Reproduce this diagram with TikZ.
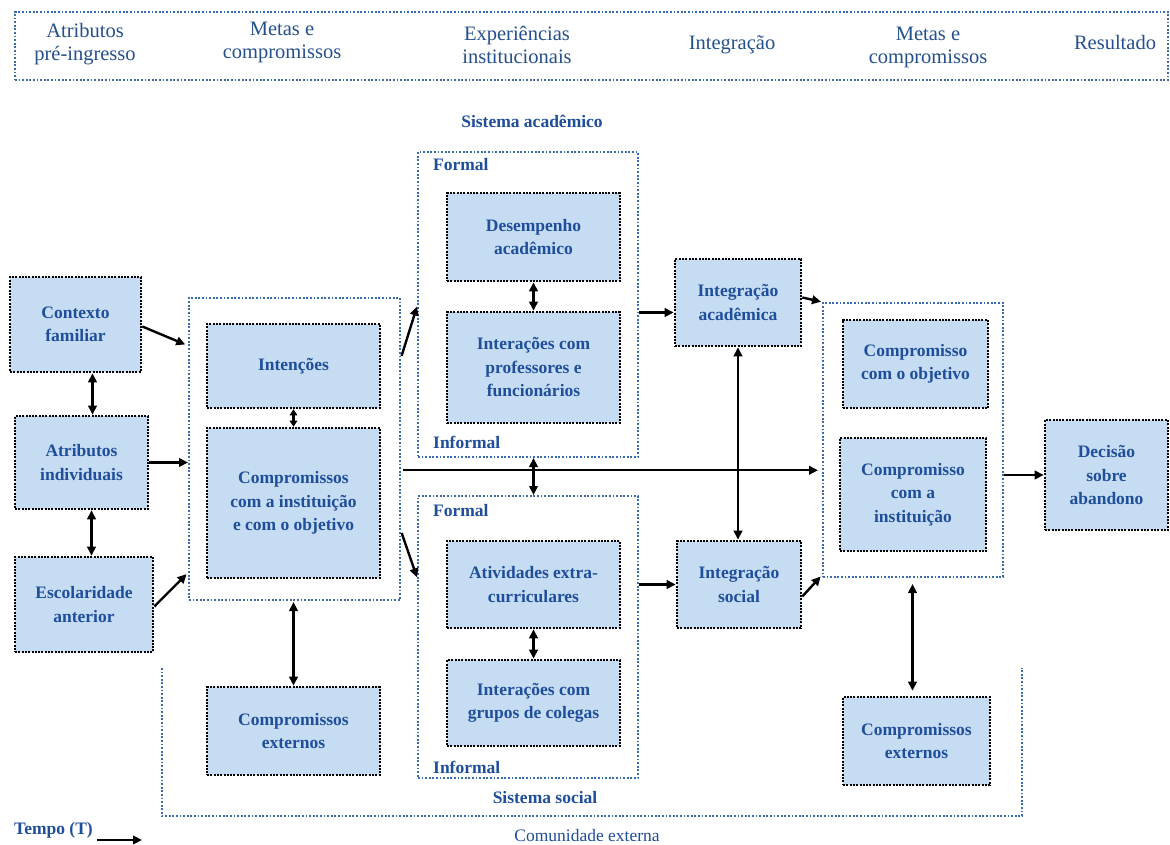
\documentclass[tikz,border=0pt]{standalone}
\usepackage{fontspec}
\setmainfont{Liberation Serif}
\usetikzlibrary{arrows.meta,calc}
\definecolor{boxfill}{HTML}{C6DCF3}
\definecolor{boxtext}{HTML}{1F4E9B}
\definecolor{frameblue}{HTML}{3A6DB0}
\definecolor{headtext}{HTML}{24508E}

\begin{document}
\begin{tikzpicture}[x=1pt,y=-1pt,
  wh/.style 2 args={minimum width=#1pt, minimum height=#2pt},
  box/.style={draw=black, fill=boxfill, line width=2.6pt, dash pattern=on 2pt off 1.3pt,
    align=center, text=boxtext, font=\fontsize{17.5}{23.5}\selectfont\bfseries, inner sep=0pt},
  frame/.style={draw=frameblue, line width=2pt, dash pattern=on 1.8pt off 1.8pt, inner sep=0pt},
  tip/.tip={Triangle[length=9pt,width=8.5pt]},
  smalltip/.tip={Triangle[length=6pt,width=7.5pt]},
  arr/.style={-tip, line width=2.4pt},
  darr/.style={tip-tip, line width=2.4pt},
  sdarr/.style={smalltip-smalltip, line width=2.4pt},
  lbl/.style={text=boxtext, font=\fontsize{17.5}{23.5}\selectfont\bfseries, inner sep=0pt},
  head/.style={text=headtext, font=\fontsize{20.5}{23}\selectfont, align=center, inner sep=0pt}
]
\fill[white] (0,0) rectangle (1170,845);
\useasboundingbox (0,0) rectangle (1170,845);

% header band with the stages
\node[frame, wh={1153}{68}] (hdr) at (591.5,46) {};
\node[head] (h1) at (85,44) {Atributos\\pré-ingresso};
\node[head] (h2) at (282,42) {Metas e\\compromissos};
\node[head] (h3) at (517,45) {Experiências\\institucionais};
\node[head] (h4) at (732,45) {Integração};
\node[head] (h5) at (928,47) {Metas e\\compromissos};
\node[head] (h6) at (1115,42) {Resultado};

% grouping frames
\node[frame, wh={211}{302}] (mid) at (294.5,449) {};
\node[frame, wh={220}{305}] (acad) at (528,304.5) {};
\node[frame, wh={220}{282}] (soc) at (528,637) {};
\node[frame, wh={180}{274}] (right) at (913,440) {};
\draw[frame] (162,668) -- (162,816) -- (1022,816) -- (1022,668);

% frame labels
\node[lbl] (sacad) at (532,121) {Sistema acadêmico};
\node[lbl, anchor=west] (f1) at (433,165) {Formal};
\node[lbl, anchor=west] (i1) at (433,442) {Informal};
\node[lbl, anchor=west] (f2) at (433,511) {Formal};
\node[lbl, anchor=west] (i2) at (433,767) {Informal};
\node[lbl] (ssoc) at (545,798) {Sistema social};
\node[text=boxtext, font=\fontsize{17.5}{20}\selectfont, inner sep=0pt] (comext) at (587,836) {Comunidade externa};
\node[lbl, anchor=west] (tempo) at (14,830) {Tempo (T)};

% boxes
\node[box, wh={131}{95}] (ctx) at (75.5,324.5) {Contexto\\familiar};
\node[box, wh={133}{93}] (atr) at (81.5,462.5) {Atributos\\individuais};
\node[box, wh={138}{95}] (esc) at (84,604.5) {Escolaridade\\anterior};
\node[box, wh={173}{84}] (int) at (293.5,366) {Intenções};
\node[box, wh={173}{150}] (com) at (293.5,503) {Compromissos\\com a instituição\\e com o objetivo};
\node[box, wh={173}{88}] (cex1) at (293.5,731) {Compromissos\\externos};
\node[box, wh={173}{88}] (des) at (533.5,237) {Desempenho\\acadêmico};
\node[box, wh={173}{111}] (ipf) at (533.5,367.5) {Interações com\\professores e\\funcionários};
\node[box, wh={173}{87}] (ati) at (533.5,584.5) {Atividades extra-\\curriculares};
\node[box, wh={173}{86}] (igc) at (533.5,703) {Interações com\\grupos de colegas};
\node[box, wh={126}{87}] (iac) at (738,302.5) {Integração\\acadêmica};
\node[box, wh={124}{87}] (iso) at (739,584.5) {Integração\\social};
\node[box, wh={145}{88}] (cob) at (915.5,364) {Compromisso\\com o objetivo};
\node[box, wh={146}{113}] (cin) at (913,494.5) {Compromisso\\com a\\instituição};
\node[box, wh={147}{88}] (cex2) at (916.5,741) {Compromissos\\externos};
\node[box, wh={123}{110}] (dec) at (1106.5,475) {Decisão\\sobre\\abandono};

% connectors
\draw[darr] ([xshift=17pt]ctx.south) -- ([xshift=17pt]ctx.south |- atr.north);
\draw[darr] ([xshift=10pt]atr.south) -- ([xshift=10pt]atr.south |- esc.north);
\draw[arr, shorten >=3pt] ([yshift=-2pt]ctx.east) -- ($(mid.north west)!0.16!(mid.south west)$);
\draw[arr] (atr.east) -- (atr.east -| mid.west);
\draw[arr, shorten >=2pt] ([yshift=-2pt]esc.east) -- ($(mid.north west)!0.907!(mid.south west)$);
\draw[sdarr] (int.south) -- (com.north);
\draw[darr, shorten <=1pt] (cex1.north |- mid.south) -- (cex1.north);

\draw[arr, shorten <=2pt] ($(mid.north east)!0.2!(mid.south east)$) -- ([yshift=-2pt]acad.west);
\draw[arr, shorten <=2pt] ($(mid.north east)!0.77!(mid.south east)$) -- ($(soc.north west)!0.29!(soc.south west)$);
\coordinate (hz) at ($(mid.north east)!0.57!(mid.south east)$);
\draw[arr, shorten <=2pt, shorten >=4pt] (hz) -- (hz -| right.west);

\draw[darr] (des.south) -- (ipf.north);
\draw[darr] (ati.south) -- (igc.north);
\draw[darr] (ipf.south |- acad.south) -- (ipf.south |- soc.north);

\draw[arr] ([yshift=-10pt]iac.west -| acad.east) -- ([yshift=-10pt]iac.west);
\draw[arr] (iso.west -| soc.east) -- (iso.west);
\draw[darr] (iac.south) -- (iac.south |- iso.north);
\draw[arr, shorten >=1pt] ([yshift=5pt]iac.east) -- (right.north west);
\draw[arr, shorten >=2pt] ([yshift=-12pt]iso.east) -- ([yshift=3pt]right.south west);

\draw[arr] (dec.west -| right.east) -- (dec.west);
\draw[darr, shorten <=6pt, shorten >=5pt] ([xshift=-4pt]cex2.north |- right.south) -- ([xshift=-4pt]cex2.north);

\coordinate (tend) at (142,840);
\draw[arr] ([xshift=4pt,yshift=-10pt]tempo.east) -- (tend);
\end{tikzpicture}
\end{document}
